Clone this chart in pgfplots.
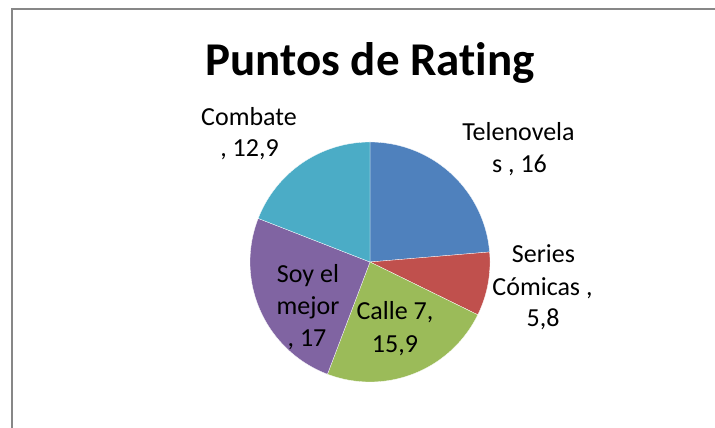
\documentclass[border=0pt]{standalone}
\usepackage{fontspec}
\setmainfont[Ligatures=NoCommon]{Carlito}
\usepackage{pgfplots}
\usepackage{pgfplotstable}
\pgfplotsset{compat=1.18}

\definecolor{pieA}{HTML}{4F81BD}
\definecolor{pieB}{HTML}{C0504D}
\definecolor{pieC}{HTML}{9BBB59}
\definecolor{pieD}{HTML}{8064A2}
\definecolor{pieE}{HTML}{4BACC6}
\definecolor{frame}{HTML}{878787}

% rating points, clockwise from 12 o'clock
\pgfplotstableread[col sep=comma]{
name,value
Telenovelas,16
Series Cómicas,5.8
Calle 7,15.9
Soy el mejor,17
Combate,12.9
}\piedata

\newcommand\lbl[3]{\node[anchor=base, inner sep=0pt, font=\fontsize{26}{32}\selectfont] at (axis cs:#1,{428-#2}) {#3};}

\begin{document}
\begin{tikzpicture}
\useasboundingbox (0,0) rectangle (715pt,428pt);
\pgfplotstablegetelem{0}{value}\of\piedata \let\vA\pgfplotsretval
\pgfplotstablegetelem{1}{value}\of\piedata \let\vB\pgfplotsretval
\pgfplotstablegetelem{2}{value}\of\piedata \let\vC\pgfplotsretval
\pgfplotstablegetelem{3}{value}\of\piedata \let\vD\pgfplotsretval
\pgfplotstablegetelem{4}{value}\of\piedata \let\vE\pgfplotsretval
\pgfmathsetmacro\tot{\vA+\vB+\vC+\vD+\vE}
\pgfmathsetmacro\aA{90-360*\vA/\tot}
\pgfmathsetmacro\aB{\aA-360*\vB/\tot}
\pgfmathsetmacro\aC{\aB-360*\vC/\tot}
\pgfmathsetmacro\aD{\aC-360*\vD/\tot}
\begin{axis}[
    scale only axis,
    width=715pt, height=428pt,
    xmin=0, xmax=715, ymin=0, ymax=428,
    hide axis, clip=false,
    samples=90,
]
% outer chart frame (cut by the image edges)
\draw[frame, line width=1.5pt] (axis cs:12,0) -- (axis cs:12,419) -- (axis cs:715,419);

% pie slices, centre (370,166) radius 120
\addplot[fill=pieA, draw=white, line width=0.3pt, domain=\aA:90]
    ({370+120*cos(x)},{166+120*sin(x)}) -- (axis cs:370,166) -- cycle;
\addplot[fill=pieB, draw=white, line width=0.3pt, domain=\aB:\aA]
    ({370+120*cos(x)},{166+120*sin(x)}) -- (axis cs:370,166) -- cycle;
\addplot[fill=pieC, draw=white, line width=0.3pt, domain=\aC:\aB]
    ({370+120*cos(x)},{166+120*sin(x)}) -- (axis cs:370,166) -- cycle;
\addplot[fill=pieD, draw=white, line width=0.3pt, domain=\aD:\aC]
    ({370+120*cos(x)},{166+120*sin(x)}) -- (axis cs:370,166) -- cycle;
\addplot[fill=pieE, draw=white, line width=0.3pt, domain=-270:\aD]
    ({370+120*cos(x)},{166+120*sin(x)}) -- (axis cs:370,166) -- cycle;

% title
\node[anchor=base, inner sep=0pt, font=\fontsize{47}{56}\selectfont\bfseries]
    at (axis cs:370,352) {Puntos de Rating};

% data labels
\lbl{249}{126}{Combate}
\lbl{249.5}{157}{, 12,9}
\lbl{518.5}{141}{Telenovela}
\lbl{519.5}{173}{s , 16}
\lbl{543.5}{263}{Series}
\lbl{542.5}{296}{Cómicas ,}
\lbl{543}{327}{5,8}
\lbl{395}{320}{Calle 7,}
\lbl{395}{353}{15,9}
\lbl{308}{283}{Soy el}
\lbl{308}{315}{mejor}
\lbl{307}{347}{, 17}
\end{axis}
\end{tikzpicture}
\end{document}
